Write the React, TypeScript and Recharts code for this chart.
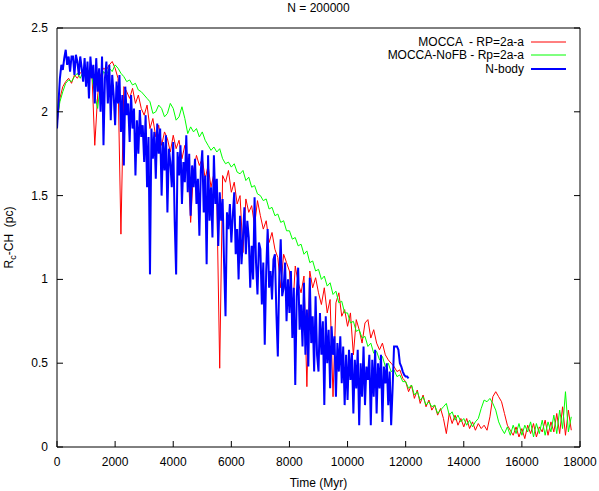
import { LineChart, Line, XAxis, YAxis, Legend, Label } from 'recharts';

const FONT = "'Liberation Sans', Arial, Helvetica, sans-serif";

// sampling step of each series (Myr)
const MOCCA_STEP = 100;
const NOFB_STEP = 100;
const NBODY_STEP = 50;

const xTicks = [0, 2000, 4000, 6000, 8000, 10000, 12000, 14000, 16000, 18000];
const yTicks = [0, 0.5, 1, 1.5, 2, 2.5];

// MOCCA - RP=2a-a
const moccaValues = [
  1.92, 2.08, 2.15, 2.18, 2.20, 2.17, 2.22, 2.20, 2.23, 2.25,
  2.21, 2.18, 2.24, 1.80, 2.10, 2.22, 2.26, 2.25, 2.28, 2.30,
  2.26, 2.20, 1.27, 2.15, 2.12, 2.08, 2.14, 2.05, 2.10, 2.02,
  1.98, 2.04, 1.90, 1.96, 1.85, 1.92, 1.80, 1.88, 1.84, 1.76,
  1.86, 1.78, 1.83, 1.72, 1.80, 1.70, 1.34, 1.65, 1.74, 1.68,
  1.72, 1.60, 1.68, 1.55, 1.63, 1.50, 0.47, 1.62, 1.58, 1.65,
  1.52, 1.58, 1.45, 1.50, 1.16, 1.48, 1.40, 1.44, 1.32, 1.47,
  1.38, 1.30, 1.35, 1.22, 1.28, 1.18, 1.13, 0.95, 1.15, 1.10,
  1.05, 0.78, 1.08, 0.98, 0.92, 1.02, 0.36, 1.05, 0.95, 1.01,
  0.92, 0.85, 0.95, 0.80, 0.88, 0.30, 0.86, 0.92, 0.78, 0.82,
  0.72, 0.80, 0.55, 0.76, 0.70, 0.62, 0.74, 0.76, 0.65, 0.70,
  0.62, 0.58, 0.62, 0.55, 0.52, 0.50, 0.48, 0.45, 0.46, 0.41,
  0.39, 0.33, 0.37, 0.29, 0.34, 0.26, 0.31, 0.24, 0.28, 0.22,
  0.25, 0.19, 0.23, 0.17, 0.08, 0.20, 0.14, 0.19, 0.13, 0.17,
  0.12, 0.17, 0.11, 0.15, 0.10, 0.14, 0.11, 0.13, 0.10, 0.18,
  0.30, 0.33, 0.30, 0.27, 0.20, 0.13, 0.10, 0.07, 0.12, 0.06,
  0.11, 0.05, 0.13, 0.08, 0.14, 0.06, 0.12, 0.09, 0.16, 0.07,
  0.15, 0.09, 0.20, 0.08, 0.24, 0.07, 0.22, 0.10,
];

// MOCCA-NoFB - Rp=2a-a
const noFbValues = [
  1.95, 2.06, 2.12, 2.17, 2.19, 2.18, 2.21, 2.23, 2.20, 2.24,
  2.22, 2.25, 2.21, 2.10, 2.02, 2.18, 2.24, 2.22, 2.26, 2.24,
  2.28, 2.26, 2.23, 2.21, 2.18, 2.19, 2.16, 2.17, 2.13, 2.12,
  2.10, 2.08, 2.06, 1.99, 2.00, 2.04, 2.02, 1.97, 1.99, 2.05,
  2.02, 1.95, 1.97, 2.03, 1.96, 1.87, 1.91, 1.88, 1.90, 1.85,
  1.88, 1.83, 1.80, 1.77, 1.79, 1.76, 1.78, 1.72, 1.69, 1.70,
  1.67, 1.69, 1.64, 1.63, 1.65, 1.59, 1.61, 1.55, 1.56, 1.51,
  1.50, 1.47, 1.48, 1.42, 1.43, 1.38, 1.39, 1.34, 1.35, 1.29,
  1.29, 1.24, 1.25, 1.20, 1.21, 1.15, 1.17, 1.10, 1.11, 1.05,
  1.06, 1.00, 1.02, 0.96, 0.98, 0.91, 0.93, 0.86, 0.87, 0.80,
  0.80, 0.74, 0.75, 0.69, 0.70, 0.65, 0.66, 0.60, 0.62, 0.56,
  0.57, 0.52, 0.54, 0.48, 0.50, 0.45, 0.46, 0.42, 0.43, 0.39,
  0.39, 0.35, 0.37, 0.31, 0.33, 0.28, 0.30, 0.25, 0.27, 0.24,
  0.25, 0.20, 0.22, 0.24, 0.26, 0.19, 0.21, 0.16, 0.19, 0.15,
  0.17, 0.13, 0.16, 0.12, 0.15, 0.17, 0.23, 0.28, 0.27, 0.29,
  0.26, 0.22, 0.15, 0.11, 0.08, 0.12, 0.07, 0.13, 0.08, 0.14,
  0.07, 0.13, 0.09, 0.15, 0.06, 0.14, 0.08, 0.16, 0.07, 0.15,
  0.09, 0.19, 0.08, 0.22, 0.11, 0.33, 0.09, 0.18,
];

// N-body
const nbodyValues = [
  1.90, 2.05, 2.20, 2.28, 2.25, 2.32, 2.37, 2.28, 2.33, 2.24,
  2.33, 2.33, 2.22, 2.34, 2.30, 2.22, 2.33, 2.26, 2.18, 2.32,
  2.15, 2.30, 2.08, 2.33, 2.20, 2.28, 2.05, 2.32, 2.12, 2.26,
  2.00, 2.33, 1.80, 2.20, 2.30, 2.05, 2.28, 1.95, 2.22, 2.10,
  1.92, 2.18, 2.05, 2.22, 1.88, 2.10, 1.68, 2.15, 1.98, 2.05,
  1.82, 2.10, 1.90, 2.02, 1.62, 1.95, 1.75, 2.01, 1.85, 1.92,
  1.70, 1.98, 1.55, 1.85, 1.03, 1.90, 1.72, 1.88, 1.60, 1.93,
  1.75, 1.90, 1.50, 1.82, 1.65, 1.86, 1.40, 1.78, 1.70, 1.55,
  1.82, 1.35, 1.03, 1.76, 1.62, 1.80, 1.45, 1.70, 1.58, 1.86,
  1.52, 1.75, 1.38, 1.68, 1.55, 1.72, 1.45, 1.60, 1.26, 1.65,
  1.77, 1.40, 1.62, 1.09, 1.74, 1.35, 1.55, 1.25, 1.74, 1.45,
  1.60, 1.20, 1.52, 1.35, 1.48, 1.10, 0.78, 1.40, 1.30, 1.45,
  1.22, 1.38, 1.52, 1.15, 1.30, 1.00, 1.38, 1.09, 1.25, 1.43,
  1.15, 1.35, 1.25, 0.95, 1.20, 1.00, 1.49, 1.10, 0.91, 1.22,
  1.18, 0.85, 1.10, 0.61, 1.05, 1.30, 0.95, 1.05, 0.88, 1.12,
  1.15, 0.80, 0.54, 1.02, 1.24, 0.90, 0.95, 1.10, 0.75, 1.00,
  0.80, 1.05, 0.65, 0.95, 0.37, 0.90, 1.07, 0.70, 0.85, 0.60,
  0.98, 0.55, 0.82, 0.48, 1.01, 0.62, 0.78, 0.45, 0.90, 0.55,
  0.45, 0.80, 0.55, 0.75, 0.25, 0.78, 0.50, 0.70, 0.35, 0.72,
  0.55, 0.66, 0.30, 0.62, 0.45, 0.66, 0.38, 0.60, 0.25, 0.55,
  0.28, 0.58, 0.40, 0.56, 0.20, 0.52, 0.35, 0.58, 0.13, 0.50,
  0.30, 0.60, 0.25, 0.48, 0.40, 0.55, 0.13, 0.52, 0.30, 0.58,
  0.20, 0.50, 0.35, 0.55, 0.15, 0.48, 0.38, 0.50, 0.25, 0.45,
  0.13, 0.35, 0.60, 0.60, 0.60, 0.58, 0.50, 0.48, 0.45, 0.43,
  0.42, 0.42, 0.41,
];

const toPoints = (values: number[], step: number) => values.map((v, i) => ({ t: i * step, v }));

const series = [
  { name: 'MOCCA  - RP=2a-a', color: '#ff0000', width: 1, data: toPoints(moccaValues, MOCCA_STEP) },
  { name: 'MOCCA-NoFB - Rp=2a-a', color: '#00ff00', width: 1, data: toPoints(noFbValues, NOFB_STEP) },
  { name: 'N-body', color: '#0000ff', width: 2, data: toPoints(nbodyValues, NBODY_STEP) },
];

// gnuplot style ticks: inward marks on all four sides
const BottomTick = ({ x, y, payload }: any) => (
  <g>
    <line x1={x} y1={y} x2={x} y2={y - 6} stroke="#000" />
    <text x={x} y={y + 19} textAnchor="middle" fontSize={12} fontFamily={FONT} fill="#000">
      {payload.value}
    </text>
  </g>
);
const TopTick = ({ x, y }: any) => <line x1={x} y1={y} x2={x} y2={y + 6} stroke="#000" />;
const LeftTick = ({ x, y, payload }: any) => (
  <g>
    <line x1={x} y1={y} x2={x + 6} y2={y} stroke="#000" />
    <text x={x - 9} y={y + 4} textAnchor="end" fontSize={12} fontFamily={FONT} fill="#000">
      {payload.value}
    </text>
  </g>
);
const RightTick = ({ x, y }: any) => <line x1={x} y1={y} x2={x - 6} y2={y} stroke="#000" />;

const YTitle = ({ viewBox }: any) => {
  const cy = viewBox.y + viewBox.height / 2;
  return (
    <text
      transform={`translate(13, ${cy}) rotate(-90)`}
      textAnchor="middle"
      fontSize={12}
      fontFamily={FONT}
      fill="#000"
    >
      R<tspan fontSize={9} dy={3}>c</tspan>
      <tspan dy={-3} style={{ whiteSpace: 'pre' }}>-CH  (pc)</tspan>
    </text>
  );
};

const LegendBox = () => (
  <div style={{ fontFamily: FONT, fontSize: 12, color: '#000' }}>
    {series.map((s) => (
      <div key={s.name} style={{ display: 'flex', justifyContent: 'flex-end', alignItems: 'center', height: 13.5 }}>
        <span style={{ whiteSpace: 'pre' }}>{s.name}</span>
        <svg width={42} height={6} style={{ display: 'block' }}>
          <line x1={7} x2={42} y1={3} y2={3} stroke={s.color} strokeWidth={s.width} />
        </svg>
      </div>
    ))}
  </div>
);

export default function App() {
  return (
    <div style={{ position: 'absolute', left: 0, top: 0, width: 599, height: 491, background: '#fff' }}>
      <LineChart width={599} height={491} margin={{ top: 18, right: 9, bottom: 14, left: 7 }}>
        <XAxis
          dataKey="t"
          type="number"
          domain={[0, 18000]}
          ticks={xTicks}
          interval={0}
          height={30}
          tickSize={0}
          tickMargin={0}
          tickLine={false}
          tick={<BottomTick />}
          axisLine={{ stroke: '#000' }}
          allowDataOverflow
        >
          <Label value="Time (Myr)" position="insideBottom" offset={-10} fontSize={12} fontFamily={FONT} fill="#000" />
        </XAxis>
        <XAxis
          xAxisId="top"
          orientation="top"
          type="number"
          domain={[0, 18000]}
          ticks={xTicks}
          interval={0}
          height={10}
          tickSize={0}
          tickMargin={0}
          tickLine={false}
          tick={<TopTick />}
          axisLine={{ stroke: '#000' }}
          allowDataOverflow
        >
          <Label value="N = 200000" position="insideTop" offset={-15} fontSize={12} fontFamily={FONT} fill="#000" />
        </XAxis>
        <YAxis
          type="number"
          domain={[0, 2.5]}
          ticks={yTicks}
          interval={0}
          width={50}
          tickSize={0}
          tickMargin={0}
          tickLine={false}
          tick={<LeftTick />}
          axisLine={{ stroke: '#000' }}
          allowDataOverflow
        >
          <Label content={<YTitle />} />
        </YAxis>
        <YAxis
          yAxisId="right"
          orientation="right"
          type="number"
          domain={[0, 2.5]}
          ticks={yTicks}
          interval={0}
          width={10}
          tickSize={0}
          tickMargin={0}
          tickLine={false}
          tick={<RightTick />}
          axisLine={{ stroke: '#000' }}
          allowDataOverflow
        />
        <Legend
          layout="vertical"
          align="center"
          verticalAlign="middle"
          content={<LegendBox />}
          wrapperStyle={{ top: 35, right: 33, left: 'auto', width: 'auto' }}
        />
        {series.map((s) => (
          <Line
            key={s.name}
            data={s.data}
            dataKey="v"
            name={s.name}
            type="linear"
            stroke={s.color}
            strokeWidth={s.width}
            dot={false}
            activeDot={false}
            isAnimationActive={false}
          />
        ))}
      </LineChart>
    </div>
  );
}
